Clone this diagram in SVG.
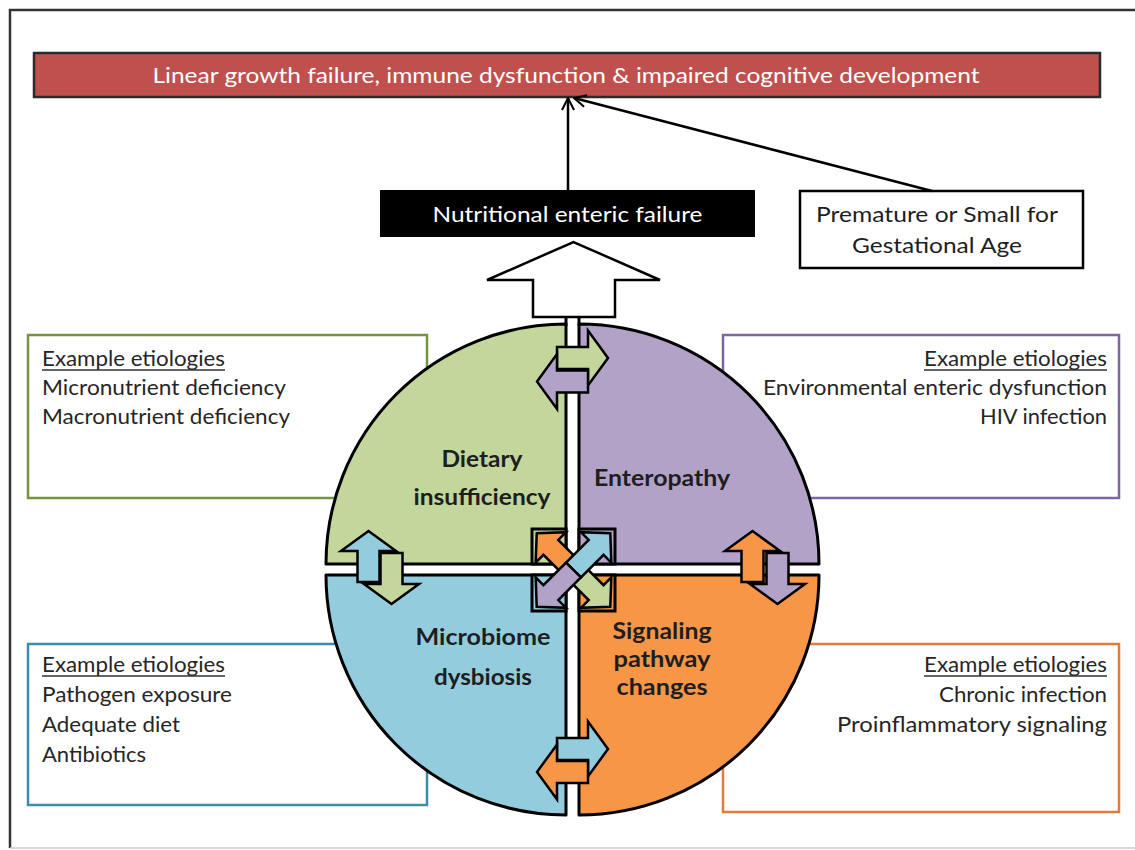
<svg xmlns="http://www.w3.org/2000/svg" xmlns:xlink="http://www.w3.org/1999/xlink" width="1135" height="850" viewBox="0 0 1135 850">
<style>
.t{font-family:Lato,"Liberation Sans",Arial,sans-serif;font-size:21px;fill:#262626}
.lb{font-family:Lato,"Liberation Sans",Arial,sans-serif;font-size:23px;font-weight:bold;fill:#1e1e1e;text-anchor:middle}
.w{font-family:Lato,"Liberation Sans",Arial,sans-serif;font-size:22px;fill:#fff;text-anchor:middle}
.k{font-family:Lato,"Liberation Sans",Arial,sans-serif;font-size:22px;fill:#1e1e1e;text-anchor:middle}
.end{text-anchor:end}
.ul{stroke:#333;stroke-width:1.5}
.q{stroke:#000;stroke-width:3;stroke-linejoin:round}
.a{stroke:#000;stroke-width:2.5;stroke-linejoin:miter}
.conn{stroke:#000;stroke-width:2.5;fill:none}
.ebox{fill:#fff;stroke-width:2.5}
</style>
<defs>
<polygon id="arr" points="0,-11 31,-11 31,-27.5 51,0 31,27.5 31,11 0,11"/>
<polygon id="half" points="0,-10.5 32,-10.5 32,-21.5 52,0 32,21.5 32,10.5 0,10.5"/>
<marker id="open" viewBox="0 0 14 14" refX="13" refY="7" markerWidth="14" markerHeight="14" markerUnits="userSpaceOnUse" orient="auto">
<path d="M1,1 L13,7 L1,13" fill="none" stroke="#000" stroke-width="2"/>
</marker>
</defs>
<rect width="1135" height="850" fill="#fff"/>
<path d="M10,848 V10 H1135" fill="none" stroke="#333" stroke-width="2.5"/>
<path d="M10,848 H1135" fill="none" stroke="#ccc" stroke-width="1.5"/>

<g id="outcome">
<rect x="34" y="53" width="1066" height="44" fill="#C0504D" stroke="#2a2a2a" stroke-width="2.5"/>
<text class="w" x="566" y="83" font-size="21" textLength="827" lengthAdjust="spacingAndGlyphs">Linear growth failure, immune dysfunction &amp; impaired cognitive development</text>
</g>

<g id="nef">
<rect x="380" y="190" width="375" height="47" fill="#000"/>
<text class="w" x="567.5" y="222" textLength="270" lengthAdjust="spacingAndGlyphs">Nutritional enteric failure</text>
</g>

<g id="premature">
<rect x="800" y="191" width="283" height="77" fill="#fff" stroke="#000" stroke-width="2.5"/>
<text class="k" x="937" y="222" textLength="242" lengthAdjust="spacingAndGlyphs">Premature or Small for</text>
<text class="k" x="937" y="253" textLength="170" lengthAdjust="spacingAndGlyphs">Gestational Age</text>
</g>

<g id="ex-dietary">
<rect class="ebox" x="28" y="335" width="399" height="163" stroke="#77933C"/>
<text class="t" x="42" y="366" textLength="183" lengthAdjust="spacingAndGlyphs">Example etiologies</text>
<line class="ul" x1="42" y1="370" x2="225" y2="370"/>
<text class="t" x="42" y="395" textLength="244" lengthAdjust="spacingAndGlyphs">Micronutrient deficiency</text>
<text class="t" x="42" y="424" textLength="248" lengthAdjust="spacingAndGlyphs">Macronutrient deficiency</text>
</g>

<g id="ex-enteropathy">
<rect class="ebox" x="723" y="335" width="396" height="163" stroke="#7B66A0"/>
<text class="t end" x="1107" y="366" textLength="183" lengthAdjust="spacingAndGlyphs">Example etiologies</text>
<line class="ul" x1="924" y1="370" x2="1107" y2="370"/>
<text class="t end" x="1107" y="395" textLength="344" lengthAdjust="spacingAndGlyphs">Environmental enteric dysfunction</text>
<text class="t end" x="1107" y="424" textLength="127" lengthAdjust="spacingAndGlyphs">HIV infection</text>
</g>

<g id="ex-microbiome">
<rect class="ebox" x="28" y="644" width="399" height="161" stroke="#3A8FA8"/>
<text class="t" x="42" y="672" textLength="183" lengthAdjust="spacingAndGlyphs">Example etiologies</text>
<line class="ul" x1="42" y1="676" x2="225" y2="676"/>
<text class="t" x="42" y="702" textLength="190" lengthAdjust="spacingAndGlyphs">Pathogen exposure</text>
<text class="t" x="42" y="732" textLength="138" lengthAdjust="spacingAndGlyphs">Adequate diet</text>
<text class="t" x="42" y="762" textLength="104" lengthAdjust="spacingAndGlyphs">Antibiotics</text>
</g>

<g id="ex-signaling">
<rect class="ebox" x="723" y="644" width="396" height="168" stroke="#E07B39"/>
<text class="t end" x="1107" y="672" textLength="183" lengthAdjust="spacingAndGlyphs">Example etiologies</text>
<line class="ul" x1="924" y1="676" x2="1107" y2="676"/>
<text class="t end" x="1107" y="702" textLength="168" lengthAdjust="spacingAndGlyphs">Chronic infection</text>
<text class="t end" x="1107" y="732" textLength="270" lengthAdjust="spacingAndGlyphs">Proinflammatory signaling</text>
</g>

<g id="big-arrow">
<polygon points="533,317 533,280 487,280 573.5,242 660,280 615,280 615,317" fill="#fff" stroke="#000" stroke-width="2.5" stroke-linejoin="miter"/>
</g>

<g id="connectors">
<line class="conn" x1="568" y1="190" x2="568" y2="98" marker-end="url(#open)"/>
<line class="conn" x1="932" y1="191" x2="574" y2="98" marker-end="url(#open)"/>
<line x1="566" y1="316" x2="566" y2="326" stroke="#000" stroke-width="3"/>
<line x1="579" y1="316" x2="579" y2="326" stroke="#000" stroke-width="3"/>
</g>

<g id="dietary">
<path class="q" d="M566,564 L326,564 A240,240 0 0,1 566,324 Z" fill="#C3D69B"/>
<rect x="532" y="529" width="34" height="35" fill="#C3D69B" stroke="#000" stroke-width="3"/>
<text class="lb" x="482" y="467" textLength="81" lengthAdjust="spacingAndGlyphs">Dietary</text>
<text class="lb" x="482" y="505" textLength="137" lengthAdjust="spacingAndGlyphs">insufficiency</text>
</g>

<g id="enteropathy">
<path class="q" d="M579,564 L579,324 A240,240 0 0,1 819,564 Z" fill="#B3A2C7"/>
<rect x="579" y="529" width="36" height="35" fill="#B3A2C7" stroke="#000" stroke-width="3"/>
<text class="lb" x="662" y="486" textLength="136" lengthAdjust="spacingAndGlyphs">Enteropathy</text>
</g>

<g id="microbiome">
<path class="q" d="M566,575 L566,815 A240,240 0 0,1 326,575 Z" fill="#93CDDD"/>
<rect x="532" y="575" width="34" height="36" fill="#93CDDD" stroke="#000" stroke-width="3"/>
<text class="lb" x="483" y="645" textLength="135" lengthAdjust="spacingAndGlyphs">Microbiome</text>
<text class="lb" x="483" y="685" textLength="98" lengthAdjust="spacingAndGlyphs">dysbiosis</text>
</g>

<g id="signaling">
<path class="q" d="M579,575 L819,575 A240,240 0 0,1 579,815 Z" fill="#F79646"/>
<rect x="579" y="575" width="36" height="36" fill="#F79646" stroke="#000" stroke-width="3"/>
<text class="lb" x="662" y="639" textLength="99" lengthAdjust="spacingAndGlyphs">Signaling</text>
<text class="lb" x="662" y="667" textLength="97" lengthAdjust="spacingAndGlyphs">pathway</text>
<text class="lb" x="662" y="695" textLength="91" lengthAdjust="spacingAndGlyphs">changes</text>
</g>

<g id="interaction-arrows">
<use xlink:href="#arr" class="a" fill="#C3D69B" transform="translate(557,358)"/>
<use xlink:href="#arr" class="a" fill="#B3A2C7" transform="translate(588,381.5) rotate(180)"/>
<use xlink:href="#arr" class="a" fill="#93CDDD" transform="translate(557,749)"/>
<use xlink:href="#arr" class="a" fill="#F79646" transform="translate(588,772) rotate(180)"/>
<use xlink:href="#arr" class="a" fill="#93CDDD" transform="translate(368.5,582) rotate(-90)"/>
<use xlink:href="#arr" class="a" fill="#C3D69B" transform="translate(391.5,553) rotate(90)"/>
<use xlink:href="#arr" class="a" fill="#F79646" transform="translate(752.5,582) rotate(-90)"/>
<use xlink:href="#arr" class="a" fill="#B3A2C7" transform="translate(777.5,553) rotate(90)"/>
<use xlink:href="#half" class="a" fill="#F79646" transform="translate(573.5,570) rotate(225)"/>
<use xlink:href="#half" class="a" fill="#C3D69B" transform="translate(573.5,570) rotate(45)"/>
<use xlink:href="#half" class="a" fill="#93CDDD" transform="translate(573.5,570) rotate(-45)"/>
<use xlink:href="#half" class="a" fill="#B3A2C7" transform="translate(573.5,570) rotate(135)"/>
</g>
</svg>
